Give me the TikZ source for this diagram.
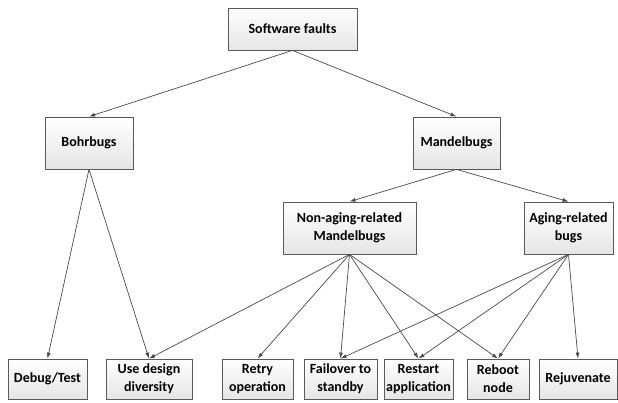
\documentclass[tikz,border=0pt]{standalone}
\usepackage{fontspec}
\setmainfont{Carlito}
\usetikzlibrary{arrows.meta}
\definecolor{edge}{HTML}{4A4A4A}
\definecolor{boxline}{HTML}{5A5A5A}
\tikzset{
  box/.style={draw=boxline, line width=0.8pt, top color=white, bottom color=black!10,
    align=center, inner sep=1pt, font=\bfseries\fontsize{14}{18}\selectfont},
  conn/.style={draw=edge, line width=0.7pt, -{Latex[length=6pt,width=4pt]}}
}
\begin{document}
\begin{tikzpicture}[x=1pt,y=-1pt]
\useasboundingbox (0,0) rectangle (618,403);
\node[box, minimum width=129pt, minimum height=42pt] (sf) at (292.5,29) {Software faults};
\node[box, minimum width=88pt, minimum height=52pt] (bohr) at (89,143) {Bohrbugs};
\node[box, minimum width=87pt, minimum height=52pt] (mand) at (456.5,143) {Mandelbugs};
\node[box, minimum width=133pt, minimum height=52pt] (nar) at (349.5,228) {Non-aging-related\\Mandelbugs};
\node[box, minimum width=89pt, minimum height=52pt] (ar) at (568.5,228) {Aging-related\\bugs};
\node[box, minimum width=79pt, minimum height=40pt] (dbg) at (47.5,379) {Debug/Test};
\node[box, minimum width=86pt, minimum height=40pt] (div) at (149,379) {Use design\\diversity};
\node[box, minimum width=71pt, minimum height=40pt] (retry) at (257.5,379) {Retry\\operation};
\node[box, minimum width=73pt, minimum height=40pt] (fail) at (340.5,379) {Failover to\\standby};
\node[box, minimum width=69pt, minimum height=40pt] (rest) at (418.5,379) {Restart\\application};
\node[box, minimum width=62pt, minimum height=40pt] (reboot) at (498,379) {Reboot\\node};
\node[box, minimum width=78pt, minimum height=40pt] (rejuv) at (578,379) {Rejuvenate};

\draw[conn] (sf.south) -- (bohr.north);
\draw[conn] (sf.south) -- (mand.north);
\draw[conn] (bohr.south) -- (dbg.north);
\draw[conn] (bohr.south) -- (div.north);
\draw[conn] (mand.south) -- (nar.north);
\draw[conn] (mand.south) -- (ar.north);
\draw[conn] (nar.south) -- (div.north);
\draw[conn] (nar.south) -- (retry.north);
\draw[conn] (nar.south) -- (fail.north);
\draw[conn] (nar.south) -- (rest.north);
\draw[conn] (nar.south) -- (reboot.north);
\draw[conn] (ar.south) -- (fail.north);
\draw[conn] (ar.south) -- (rest.north);
\draw[conn] (ar.south) -- (reboot.north);
\draw[conn] (ar.south) -- (rejuv.north);
\end{tikzpicture}
\end{document}
